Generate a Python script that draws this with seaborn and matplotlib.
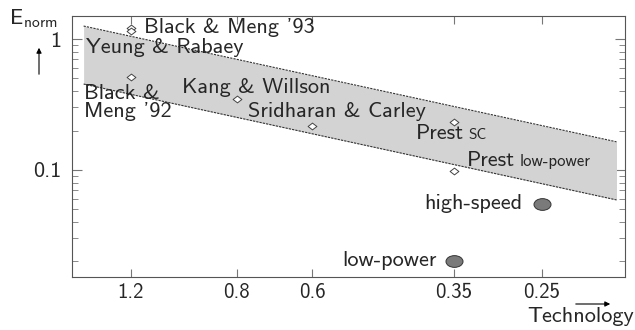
import numpy as np
import pandas as pd
import matplotlib
matplotlib.use("Agg")
import matplotlib.pyplot as plt
import seaborn as sns
from matplotlib.path import Path
from matplotlib.transforms import Affine2D
from matplotlib.ticker import FixedLocator, FixedFormatter, LogLocator, NullFormatter

# published designs (technology in um, normalised energy)
design_names = ["Black & Meng '93", "Yeung & Rabaey", "Black & Meng '92",
                "Kang & Willson", "Sridharan & Carley", "Prest", "Prest"]
design_tech = [1.2, 1.2, 1.2, 0.8, 0.6, 0.35, 0.35]
design_enorm = [1.22, 1.16, 0.51, 0.348, 0.217, 0.232, 0.098]
design_suffix = ["", "", "", "", "", "SC", "low-power"]

# this work
own_names = ["high-speed", "low-power"]
own_tech = [0.25, 0.35]
own_enorm = [0.055, 0.0202]

# shaded trend band
band_tech = [1.435, 0.188]
band_upper = [1.257, 0.164]
band_lower = [0.453, 0.059]

x_ticks = [1.2, 0.8, 0.6, 0.35, 0.25]
x_ticklabels = ["1.2", "0.8", "0.6", "0.35", "0.25"]

sns.set_style("ticks")
plt.rcParams["font.family"] = ["cmss10", "DejaVu Sans"]
plt.rcParams["mathtext.default"] = "regular"
plt.rcParams["axes.unicode_minus"] = False
plt.rcParams["axes.formatter.use_mathtext"] = False

fig = plt.figure(figsize=(6.35, 3.3), dpi=100)
ax = fig.add_axes([72 / 635, 53 / 330, 553 / 635, 261 / 330])
ax.set_xscale("log")
ax.set_yscale("log")

ax.fill_between(band_tech, band_lower, band_upper, color="#d3d3d3", lw=0, zorder=1)
ax.plot(band_tech, band_upper, ls=(0, (2, 1)), color="#333333", lw=0.8, zorder=2)
ax.plot(band_tech, band_lower, ls=(0, (2, 1)), color="#333333", lw=0.8, zorder=2)

df_d = pd.DataFrame({"tech": design_tech, "enorm": design_enorm})
df_o = pd.DataFrame({"tech": own_tech, "enorm": own_enorm})

diamond = Path([(-1.3, 0), (0, 1), (1.3, 0), (0, -1), (-1.3, 0)],
               [Path.MOVETO, Path.LINETO, Path.LINETO, Path.LINETO, Path.CLOSEPOLY])
ellipse = Path.unit_circle().transformed(Affine2D().scale(1.45, 1.0))

sns.scatterplot(data=df_d, x="tech", y="enorm", marker=diamond, s=40,
                facecolor="white", edgecolor="#444444", linewidth=0.7,
                ax=ax, zorder=3)
sns.scatterplot(data=df_o, x="tech", y="enorm", marker=ellipse, s=150,
                color="#7a7a7a", edgecolor="#333333", linewidth=0.7,
                ax=ax, zorder=3)

# label offsets in pixels relative to the points
d_offsets = [(13, 0), (-45, -17), (-47, -25), (-55, 12), (-64, 14), (-38, -11), (13, 11)]
d_text = ["Black & Meng '93", "Yeung & Rabaey", "Black &\nMeng '92",
          "Kang & Willson", "Sridharan & Carley", "Prest", "Prest"]
for t, x, y, off, suf in zip(d_text, design_tech, design_enorm, d_offsets, design_suffix):
    txt = ax.annotate(t, (x, y), xytext=off, textcoords="offset pixels",
                      ha="left", va="center", fontsize=16, linespacing=0.95, zorder=4)
    if suf:
        fs = 11 if suf == "SC" else 12
        ax.annotate(suf, xy=(1, 0), xycoords=txt, xytext=(5, 1),
                    textcoords="offset pixels", ha="left", va="bottom",
                    fontsize=fs, zorder=4)

o_offsets = [(-19, 0), (-17, 0)]
for t, x, y, off in zip(own_names, own_tech, own_enorm, o_offsets):
    ax.annotate(t, (x, y), xytext=off, textcoords="offset pixels",
                ha="right", va="center", fontsize=16, zorder=4)

ax.set_xlim(1.5, 0.182)
ax.set_ylim(0.0152, 1.5)

ax.xaxis.set_major_locator(FixedLocator(x_ticks))
ax.xaxis.set_major_formatter(FixedFormatter(x_ticklabels))
ax.xaxis.set_minor_locator(FixedLocator([]))
ax.yaxis.set_major_locator(FixedLocator([0.1, 1]))
ax.yaxis.set_major_formatter(FixedFormatter(["0.1", "1"]))
ax.yaxis.set_minor_locator(LogLocator(base=10, subs=np.arange(2, 10)))
ax.yaxis.set_minor_formatter(NullFormatter())

ax.tick_params(which="both", direction="in", top=True, right=True,
               color="#777777", labelsize=15)
ax.tick_params(axis="x", which="major", length=6, pad=4)
ax.tick_params(axis="y", which="major", length=7, pad=8, labelsize=16)
ax.tick_params(axis="y", which="minor", length=4)
for s in ax.spines.values():
    s.set_color("#555555")
    s.set_linewidth(0.8)
ax.set_xlabel("")
ax.set_ylabel("")

# axis captions with arrows, figure pixel coordinates
fig.text(9 / 635, 1 - 19 / 330, r"E$_{norm}$", fontsize=16, ha="left", va="center")
fig.add_artist(matplotlib.patches.FancyArrowPatch(
    (39 / 635, 1 - 77 / 330), (39 / 635, 1 - 45 / 330), transform=fig.transFigure,
    arrowstyle="-|>,head_length=3,head_width=1.5", color="black", lw=0.8))
fig.text(634 / 635, 1 - 317 / 330, "Technology", fontsize=16, ha="right", va="center")
fig.add_artist(matplotlib.patches.FancyArrowPatch(
    (573 / 635, 1 - 304 / 330), (613 / 635, 1 - 304 / 330), transform=fig.transFigure,
    arrowstyle="-|>,head_length=3,head_width=1.5", color="black", lw=0.8))

fig.savefig("out.png", dpi=100)
